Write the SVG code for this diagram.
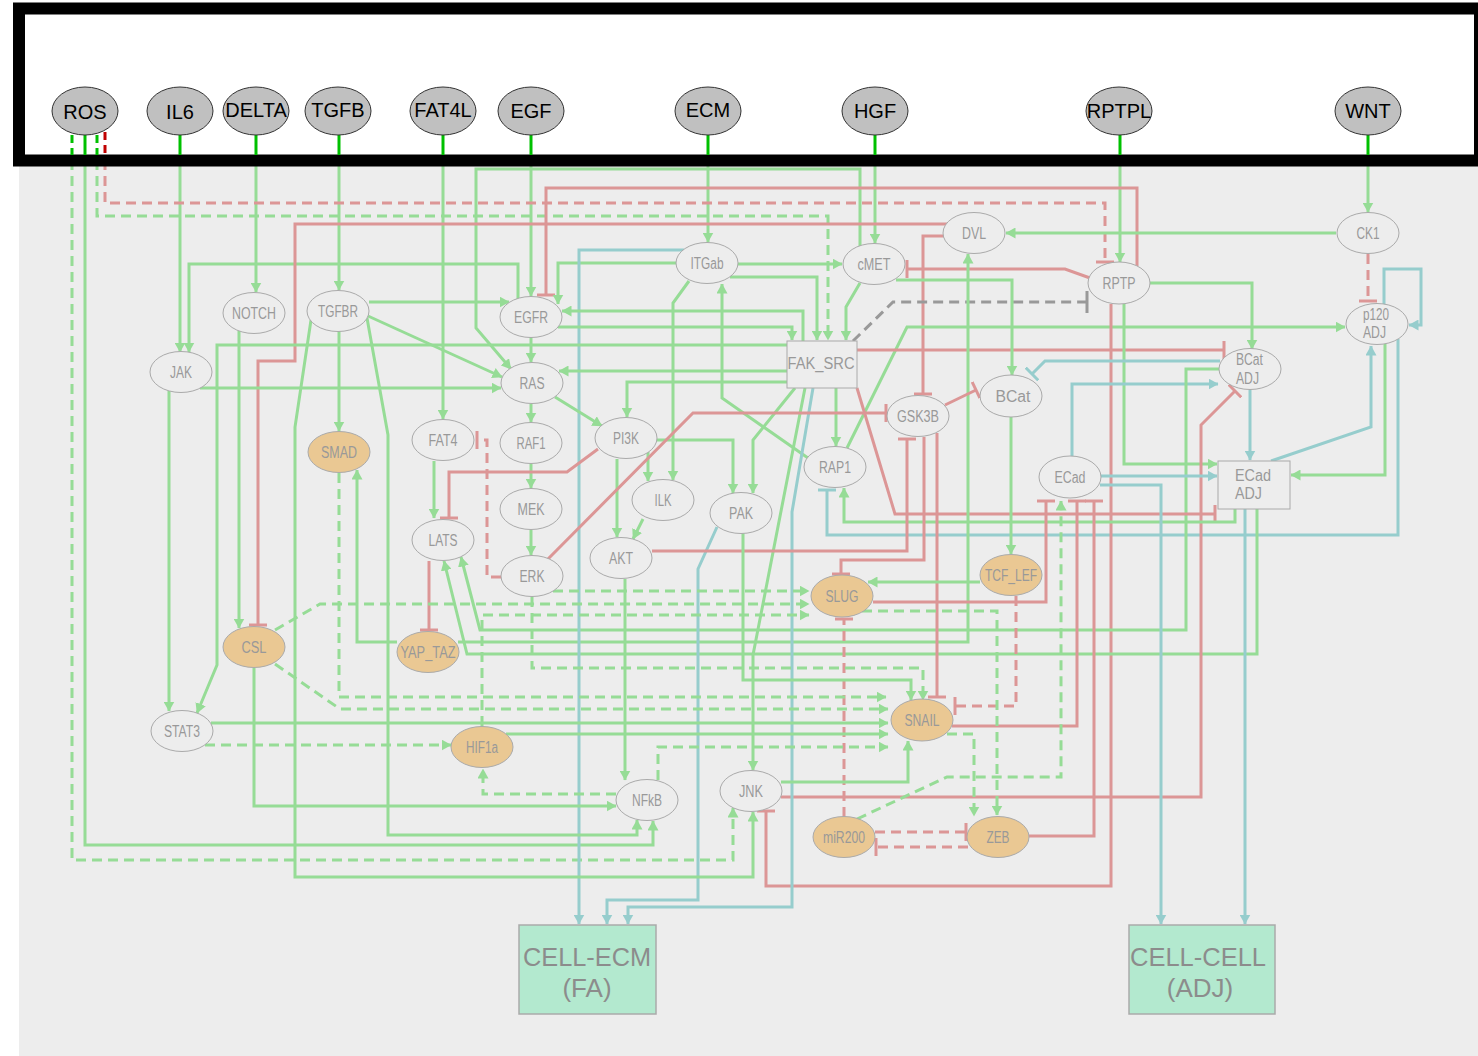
<svg xmlns="http://www.w3.org/2000/svg" width="1478" height="1056" viewBox="0 0 1478 1056">
<defs>
<style>
.g{fill:none;stroke:#96dc96;stroke-width:3}
.gd{fill:none;stroke:#96dc96;stroke-width:3;stroke-dasharray:10 6}
.r{fill:none;stroke:#dc9696;stroke-width:3}
.rd{fill:none;stroke:#dc9696;stroke-width:3;stroke-dasharray:10 6}
.t{fill:none;stroke:#96cdcd;stroke-width:3}
.kd{fill:none;stroke:#999;stroke-width:3;stroke-dasharray:10 6}
.stub{fill:none;stroke:#00c000;stroke-width:3}
.stubd{fill:none;stroke:#00c000;stroke-width:3;stroke-dasharray:8 5}
.stubr{fill:none;stroke:#c00000;stroke-width:3;stroke-dasharray:8 5}
.tn{fill:#c0c0c0;stroke:#333;stroke-width:1}
.tl{font-family:"Liberation Sans",Arial,sans-serif;font-size:20px;fill:#000;text-anchor:middle}
.n{fill:#ededed;stroke:#aaa;stroke-width:1}
.o{fill:#eac893;stroke:#aaa;stroke-width:1}
.nl{font-family:"Liberation Sans",Arial,sans-serif;font-size:16px;fill:#999;text-anchor:middle}
.nls{font-family:"Liberation Sans",Arial,sans-serif;font-size:16px;fill:#999;text-anchor:start}
.out{fill:#b3e9cf;stroke:#aaa;stroke-width:1.5}
.ol{font-family:"Liberation Sans",Arial,sans-serif;font-size:26px;fill:#8c8c8c;text-anchor:middle}
</style>
<marker id="ag" viewBox="0 0 10 11" refX="9.5" refY="5.5" markerWidth="10" markerHeight="11" orient="auto" markerUnits="userSpaceOnUse"><path d="M0,0 L10,5.5 L0,11 z" fill="#96dc96"/></marker>
<marker id="at" viewBox="0 0 10 11" refX="9.5" refY="5.5" markerWidth="10" markerHeight="11" orient="auto" markerUnits="userSpaceOnUse"><path d="M0,0 L10,5.5 L0,11 z" fill="#96cdcd"/></marker>
<marker id="tr" viewBox="0 0 4 18" refX="2" refY="9" markerWidth="4" markerHeight="18" orient="auto" markerUnits="userSpaceOnUse"><rect x="0.5" y="0" width="3" height="18" fill="#dc9696"/></marker>
<marker id="tt" viewBox="0 0 4 18" refX="2" refY="9" markerWidth="4" markerHeight="18" orient="auto" markerUnits="userSpaceOnUse"><rect x="0.5" y="0" width="3" height="18" fill="#96cdcd"/></marker>
<marker id="tk" viewBox="0 0 4 22" refX="2" refY="11" markerWidth="4" markerHeight="22" orient="auto" markerUnits="userSpaceOnUse"><rect x="0.5" y="0" width="3" height="22" fill="#999"/></marker>
</defs>
<rect x="0" y="0" width="1478" height="1056" fill="#fff"/>
<rect x="19" y="160" width="1459" height="896" fill="#ededed"/>
<g id="connectors">
<path class="g" d="M180,160 V352" marker-end="url(#ag)"/>
<path class="g" d="M256,160 V292" marker-end="url(#ag)"/>
<path class="g" d="M339,160 V290" marker-end="url(#ag)"/>
<path class="g" d="M443,160 V419" marker-end="url(#ag)"/>
<path class="g" d="M531,160 V296" marker-end="url(#ag)"/>
<path class="g" d="M708,160 V242" marker-end="url(#ag)"/>
<path class="g" d="M875,160 V243" marker-end="url(#ag)"/>
<path class="g" d="M1120,160 V262" marker-end="url(#ag)"/>
<path class="g" d="M1368,160 V212" marker-end="url(#ag)"/>
<path class="gd" d="M72,160 V860 H733 V808" marker-end="url(#ag)"/>
<path class="g" d="M85,160 V845 H653 V821" marker-end="url(#ag)"/>
<path class="gd" d="M97,160 V216 H828 V340" marker-end="url(#ag)"/>
<path class="rd" d="M105,160 V203 H1105 V262" marker-end="url(#tr)"/>
<path class="g" d="M518,299 V264 H189 V352" marker-end="url(#ag)"/>
<path class="g" d="M860,246 V169 H476 V328 L511,369" marker-end="url(#ag)"/>
<path class="g" d="M368,316 L502,377" marker-end="url(#ag)"/>
<path class="g" d="M369,302 H509" marker-end="url(#ag)"/>
<path class="r" d="M1137,266 V188 H546 V295" marker-end="url(#tr)"/>
<path class="r" d="M947,224 H295 V361 H258 V625" marker-end="url(#tr)"/>
<path class="r" d="M944,236 H923 V394" marker-end="url(#tr)"/>
<path class="r" d="M1090,278 L1065,269 H907" marker-end="url(#tr)"/>
<path class="kd" d="M853,341 L893,302 H1087" marker-end="url(#tk)"/>
<path class="g" d="M1336,233 H1006" marker-end="url(#ag)"/>
<path class="rd" d="M1368,254 V301" marker-end="url(#tr)"/>
<path class="t" d="M1384,305 V269 H1421 V325 H1409" marker-end="url(#at)"/>
<path class="t" d="M1271,461 L1371,427 V346" marker-end="url(#at)"/>
<path class="g" d="M1385,344 V475 H1291" marker-end="url(#ag)"/>
<path class="t" d="M1398,339 V535 H827 V490" marker-end="url(#tt)"/>
<path class="g" d="M1150,283 H1252 V349" marker-end="url(#ag)"/>
<path class="g" d="M847,448 L907,327 H1345" marker-end="url(#ag)"/>
<path class="r" d="M857,350 H1224" marker-end="url(#tr)"/>
<path class="r" d="M1111,304 V886 H766 V811" marker-end="url(#tr)"/>
<path class="g" d="M1124,304 V464 H1217" marker-end="url(#ag)"/>
<path class="t" d="M1250,390 V460" marker-end="url(#at)"/>
<path class="t" d="M1220,361 H1045 L1032,374" marker-end="url(#tt)"/>
<path class="t" d="M1072,456 V384 H1218" marker-end="url(#at)"/>
<path class="g" d="M1219,369 H1186 V630 H480 L461,557" marker-end="url(#ag)"/>
<path class="g" d="M1257,509 V654 H467 L444,561" marker-end="url(#ag)"/>
<path class="r" d="M781,797 H1201 V425 L1235,391" marker-end="url(#tr)"/>
<path class="r" d="M857,388 L895,514 H1215" marker-end="url(#tr)"/>
<path class="g" d="M1235,509 V522 H844 V488" marker-end="url(#ag)"/>
<path class="t" d="M1100,485 H1161 V924" marker-end="url(#at)"/>
<path class="t" d="M1100,476 H1217" marker-end="url(#at)"/>
<path class="t" d="M1245,509 V924" marker-end="url(#at)"/>
<path class="g" d="M397,642 H357 V470" marker-end="url(#ag)"/>
<path class="g" d="M458,642 H968 V254" marker-end="url(#ag)"/>
<path class="g" d="M1011,417 V554" marker-end="url(#ag)"/>
<path class="g" d="M896,280 H1012 V375" marker-end="url(#ag)"/>
<path class="g" d="M860,283 L846,307 V340" marker-end="url(#ag)"/>
<path class="g" d="M738,264 H842" marker-end="url(#ag)"/>
<path class="g" d="M730,277 H817 V340" marker-end="url(#ag)"/>
<path class="g" d="M677,263 H558 V304" marker-end="url(#ag)"/>
<path class="g" d="M689,281 L673,303 V480" marker-end="url(#ag)"/>
<path class="g" d="M808,458 L722,398 V284" marker-end="url(#ag)"/>
<path class="t" d="M684,250 H579 V924" marker-end="url(#at)"/>
<path class="g" d="M531,337 V362" marker-end="url(#ag)"/>
<path class="g" d="M803,341 V311 H562" marker-end="url(#ag)"/>
<path class="g" d="M558,327 H792 V340" marker-end="url(#ag)"/>
<path class="g" d="M787,345 H217 V665 L197,713" marker-end="url(#ag)"/>
<path class="g" d="M787,371 H559" marker-end="url(#ag)"/>
<path class="g" d="M787,382 H627 V417" marker-end="url(#ag)"/>
<path class="g" d="M795,388 L753,440 V493" marker-end="url(#ag)"/>
<path class="g" d="M805,388 L753,655 V770" marker-end="url(#ag)"/>
<path class="t" d="M813,388 L792,512 V907 H628 V924" marker-end="url(#at)"/>
<path class="g" d="M836,388 V446" marker-end="url(#ag)"/>
<path class="t" d="M717,527 L698,569 V900 H607 V924" marker-end="url(#at)"/>
<path class="g" d="M657,440 H733 V493" marker-end="url(#ag)"/>
<path class="g" d="M555,397 L602,426" marker-end="url(#ag)"/>
<path class="g" d="M531,404 V422" marker-end="url(#ag)"/>
<path class="g" d="M531,464 V488" marker-end="url(#ag)"/>
<path class="g" d="M531,530 V555" marker-end="url(#ag)"/>
<path class="g" d="M617,459 V537" marker-end="url(#ag)"/>
<path class="g" d="M648,452 V481" marker-end="url(#ag)"/>
<path class="g" d="M643,519 L633,539" marker-end="url(#ag)"/>
<path class="r" d="M598,449 L567,472 H449 V518" marker-end="url(#tr)"/>
<path class="g" d="M434,461 V518" marker-end="url(#ag)"/>
<path class="r" d="M429,561 V630" marker-end="url(#tr)"/>
<path class="rd" d="M501,577 H487 V440 H477" marker-end="url(#tr)"/>
<path class="r" d="M547,560 L693,413 H886" marker-end="url(#tr)"/>
<path class="r" d="M652,551 H907 V439" marker-end="url(#tr)"/>
<path class="r" d="M924,437 V560 H841 V574" marker-end="url(#tr)"/>
<path class="r" d="M937,433 V697" marker-end="url(#tr)"/>
<path class="r" d="M945,405 L976,390" marker-end="url(#tr)"/>
<path class="r" d="M873,602 H1046 V501" marker-end="url(#tr)"/>
<path class="g" d="M980,582 H868" marker-end="url(#ag)"/>
<path class="rd" d="M1016,596 V706 H955" marker-end="url(#tr)"/>
<path class="r" d="M952,726 H1077 V501" marker-end="url(#tr)"/>
<path class="r" d="M1029,836 H1094 V501" marker-end="url(#tr)"/>
<path class="gd" d="M857,819 L947,777 H1061 V501" marker-end="url(#ag)"/>
<path class="rd" d="M844,817 V619" marker-end="url(#tr)"/>
<path class="gd" d="M862,611 H997 V815" marker-end="url(#ag)"/>
<path class="gd" d="M947,734 H974 V816" marker-end="url(#ag)"/>
<path class="rd" d="M875,832 H966" marker-end="url(#tr)"/>
<path class="rd" d="M968,847 H876" marker-end="url(#tr)"/>
<path class="g" d="M781,782 H908 V741" marker-end="url(#ag)"/>
<path class="gd" d="M616,794 H483 V769" marker-end="url(#ag)"/>
<path class="gd" d="M658,780 V747 H888" marker-end="url(#ag)"/>
<path class="g" d="M625,579 V780" marker-end="url(#ag)"/>
<path class="g" d="M254,668 V806 H616" marker-end="url(#ag)"/>
<path class="g" d="M367,318 L388,435 V835 H637 V820" marker-end="url(#ag)"/>
<path class="g" d="M311,320 L295,427 V877 H753 V812" marker-end="url(#ag)"/>
<path class="g" d="M339,331 V431" marker-end="url(#ag)"/>
<path class="g" d="M239,331 V628" marker-end="url(#ag)"/>
<path class="g" d="M169,391 V711" marker-end="url(#ag)"/>
<path class="g" d="M200,388 H501" marker-end="url(#ag)"/>
<path class="g" d="M211,723 H888" marker-end="url(#ag)"/>
<path class="gd" d="M205,745 H451" marker-end="url(#ag)"/>
<path class="g" d="M506,734 H888" marker-end="url(#ag)"/>
<path class="gd" d="M482,726 V615 H809" marker-end="url(#ag)"/>
<path class="gd" d="M275,630 L320,604 H809" marker-end="url(#ag)"/>
<path class="gd" d="M553,591 H809" marker-end="url(#ag)"/>
<path class="gd" d="M275,664 L340,709 H888" marker-end="url(#ag)"/>
<path class="gd" d="M339,473 V697 H886" marker-end="url(#ag)"/>
<path class="gd" d="M532,597 V668 H923 V700" marker-end="url(#ag)"/>
<path class="g" d="M743,533 V680 H911 V700" marker-end="url(#ag)"/>
</g>
<rect x="19" y="8.5" width="1461" height="152" fill="none" stroke="#000" stroke-width="12"/>
<g id="header-stubs">
<path class="stubd" d="M72,135 V155"/>
<path class="stub" d="M85,135 V155"/>
<path class="stubd" d="M97,135 V155"/>
<path class="stubr" d="M105,132 V155"/>
<path class="stub" d="M180,135 V155"/>
<path class="stub" d="M256,135 V155"/>
<path class="stub" d="M339,135 V155"/>
<path class="stub" d="M443,135 V155"/>
<path class="stub" d="M531,135 V155"/>
<path class="stub" d="M708,135 V155"/>
<path class="stub" d="M875,135 V155"/>
<path class="stub" d="M1120,135 V155"/>
<path class="stub" d="M1368,135 V155"/>
</g>
<g id="n-ROS"><ellipse class="tn" cx="85" cy="111" rx="33" ry="24"/><text class="tl" x="85" y="119">ROS</text></g>
<g id="n-IL6"><ellipse class="tn" cx="180" cy="111" rx="33" ry="24"/><text class="tl" x="180" y="119">IL6</text></g>
<g id="n-DELTA"><ellipse class="tn" cx="256" cy="111" rx="33" ry="24"/><text class="tl" x="256" y="117">DELTA</text></g>
<g id="n-TGFB"><ellipse class="tn" cx="338" cy="111" rx="33" ry="24"/><text class="tl" x="338" y="117">TGFB</text></g>
<g id="n-FAT4L"><ellipse class="tn" cx="443" cy="111" rx="33" ry="24"/><text class="tl" x="443" y="117">FAT4L</text></g>
<g id="n-EGF"><ellipse class="tn" cx="531" cy="111" rx="33" ry="24"/><text class="tl" x="531" y="118">EGF</text></g>
<g id="n-ECM"><ellipse class="tn" cx="708" cy="111" rx="33" ry="24"/><text class="tl" x="708" y="117">ECM</text></g>
<g id="n-HGF"><ellipse class="tn" cx="875" cy="111" rx="33" ry="24"/><text class="tl" x="875" y="118">HGF</text></g>
<g id="n-RPTPL"><ellipse class="tn" cx="1119" cy="111" rx="33" ry="24"/><text class="tl" x="1119" y="118">RPTPL</text></g>
<g id="n-WNT"><ellipse class="tn" cx="1368" cy="111" rx="33" ry="24"/><text class="tl" x="1368" y="118">WNT</text></g>
<g id="n-NOTCH"><ellipse class="n" cx="254" cy="313" rx="31" ry="20.5"/><text class="nl" x="254" y="319" textLength="44" lengthAdjust="spacingAndGlyphs">NOTCH</text></g>
<g id="n-TGFBR"><ellipse class="n" cx="338" cy="311" rx="31" ry="20.5"/><text class="nl" x="338" y="317" textLength="40" lengthAdjust="spacingAndGlyphs">TGFBR</text></g>
<g id="n-JAK"><ellipse class="n" cx="181" cy="372" rx="31" ry="20.5"/><text class="nl" x="181" y="378" textLength="22" lengthAdjust="spacingAndGlyphs">JAK</text></g>
<g id="n-SMAD"><ellipse class="o" cx="339" cy="452" rx="31" ry="20.5"/><text class="nl" x="339" y="458" textLength="36" lengthAdjust="spacingAndGlyphs">SMAD</text></g>
<g id="n-CSL"><ellipse class="o" cx="254" cy="647" rx="31" ry="20.5"/><text class="nl" x="254" y="653" textLength="25" lengthAdjust="spacingAndGlyphs">CSL</text></g>
<g id="n-STAT3"><ellipse class="n" cx="182" cy="731" rx="31" ry="20.5"/><text class="nl" x="182" y="737" textLength="36" lengthAdjust="spacingAndGlyphs">STAT3</text></g>
<g id="n-EGFR"><ellipse class="n" cx="531" cy="317" rx="31" ry="20.5"/><text class="nl" x="531" y="323" textLength="34" lengthAdjust="spacingAndGlyphs">EGFR</text></g>
<g id="n-ITGab"><ellipse class="n" cx="707" cy="263" rx="31" ry="20.5"/><text class="nl" x="707" y="269" textLength="33" lengthAdjust="spacingAndGlyphs">ITGab</text></g>
<g id="n-cMET"><ellipse class="n" cx="874" cy="264" rx="31" ry="20.5"/><text class="nl" x="874" y="270" textLength="33" lengthAdjust="spacingAndGlyphs">cMET</text></g>
<g id="n-DVL"><ellipse class="n" cx="974" cy="233" rx="31" ry="20.5"/><text class="nl" x="974" y="239" textLength="24" lengthAdjust="spacingAndGlyphs">DVL</text></g>
<g id="n-RPTP"><ellipse class="n" cx="1119" cy="283" rx="31" ry="21"/><text class="nl" x="1119" y="289" textLength="33" lengthAdjust="spacingAndGlyphs">RPTP</text></g>
<g id="n-CK1"><ellipse class="n" cx="1368" cy="233" rx="31" ry="20.5"/><text class="nl" x="1368" y="239" textLength="23" lengthAdjust="spacingAndGlyphs">CK1</text></g>
<g id="n-p120ADJ"><ellipse class="n" cx="1377" cy="324" rx="31" ry="20.5"/><text class="nls" x="1363" y="320" textLength="26" lengthAdjust="spacingAndGlyphs">p120</text><text class="nls" x="1363" y="338" textLength="23" lengthAdjust="spacingAndGlyphs">ADJ</text></g>
<g id="n-FAK_SRC"><rect class="n" x="787" y="341" width="70" height="47"/><text class="nl" x="821" y="369" textLength="67" lengthAdjust="spacingAndGlyphs">FAK_SRC</text></g>
<g id="n-RAS"><ellipse class="n" cx="532" cy="383" rx="31" ry="20.5"/><text class="nl" x="532" y="389" textLength="25" lengthAdjust="spacingAndGlyphs">RAS</text></g>
<g id="n-FAT4"><ellipse class="n" cx="443" cy="440" rx="31" ry="20.5"/><text class="nl" x="443" y="446" textLength="29" lengthAdjust="spacingAndGlyphs">FAT4</text></g>
<g id="n-RAF1"><ellipse class="n" cx="531" cy="443" rx="31" ry="20.5"/><text class="nl" x="531" y="449" textLength="29" lengthAdjust="spacingAndGlyphs">RAF1</text></g>
<g id="n-PI3K"><ellipse class="n" cx="626" cy="438" rx="31" ry="20.5"/><text class="nl" x="626" y="444" textLength="26" lengthAdjust="spacingAndGlyphs">PI3K</text></g>
<g id="n-MEK"><ellipse class="n" cx="531" cy="509" rx="31" ry="20.5"/><text class="nl" x="531" y="515" textLength="27" lengthAdjust="spacingAndGlyphs">MEK</text></g>
<g id="n-LATS"><ellipse class="n" cx="443" cy="540" rx="31" ry="20.5"/><text class="nl" x="443" y="546" textLength="29" lengthAdjust="spacingAndGlyphs">LATS</text></g>
<g id="n-ILK"><ellipse class="n" cx="663" cy="500" rx="31" ry="20.5"/><text class="nl" x="663" y="506" textLength="17" lengthAdjust="spacingAndGlyphs">ILK</text></g>
<g id="n-PAK"><ellipse class="n" cx="741" cy="513" rx="31" ry="20.5"/><text class="nl" x="741" y="519" textLength="24" lengthAdjust="spacingAndGlyphs">PAK</text></g>
<g id="n-AKT"><ellipse class="n" cx="621" cy="558" rx="31" ry="20.5"/><text class="nl" x="621" y="564" textLength="24" lengthAdjust="spacingAndGlyphs">AKT</text></g>
<g id="n-ERK"><ellipse class="n" cx="532" cy="576" rx="31" ry="20.5"/><text class="nl" x="532" y="582" textLength="25" lengthAdjust="spacingAndGlyphs">ERK</text></g>
<g id="n-YAP_TAZ"><ellipse class="o" cx="428" cy="652" rx="31" ry="20.5"/><text class="nl" x="428" y="658" textLength="55" lengthAdjust="spacingAndGlyphs">YAP_TAZ</text></g>
<g id="n-GSK3B"><ellipse class="n" cx="918" cy="416" rx="31" ry="20.5"/><text class="nl" x="918" y="422" textLength="42" lengthAdjust="spacingAndGlyphs">GSK3B</text></g>
<g id="n-BCat"><ellipse class="n" cx="1011" cy="396" rx="31" ry="21"/><text class="nl" x="1013" y="402" textLength="35" lengthAdjust="spacingAndGlyphs">BCat</text></g>
<g id="n-RAP1"><ellipse class="n" cx="835" cy="467" rx="31" ry="20.5"/><text class="nl" x="835" y="473" textLength="32" lengthAdjust="spacingAndGlyphs">RAP1</text></g>
<g id="n-ECad"><ellipse class="n" cx="1070" cy="477" rx="31" ry="21"/><text class="nl" x="1070" y="483" textLength="31" lengthAdjust="spacingAndGlyphs">ECad</text></g>
<g id="n-TCF_LEF"><ellipse class="o" cx="1011" cy="575" rx="31" ry="20.5"/><text class="nl" x="1011" y="581" textLength="52" lengthAdjust="spacingAndGlyphs">TCF_LEF</text></g>
<g id="n-SLUG"><ellipse class="o" cx="842" cy="596" rx="31" ry="21"/><text class="nl" x="842" y="602" textLength="33" lengthAdjust="spacingAndGlyphs">SLUG</text></g>
<g id="n-BCatADJ"><ellipse class="n" cx="1250" cy="369" rx="31" ry="20.5"/><text class="nls" x="1236" y="365" textLength="27" lengthAdjust="spacingAndGlyphs">BCat</text><text class="nls" x="1236" y="384" textLength="23" lengthAdjust="spacingAndGlyphs">ADJ</text></g>
<g id="n-ECadADJ"><rect class="n" x="1218" y="461" width="72" height="48"/><text class="nls" x="1235" y="481" textLength="36" lengthAdjust="spacingAndGlyphs">ECad</text><text class="nls" x="1235" y="499" textLength="27" lengthAdjust="spacingAndGlyphs">ADJ</text></g>
<g id="n-SNAIL"><ellipse class="o" cx="922" cy="720" rx="31" ry="21"/><text class="nl" x="922" y="726" textLength="35" lengthAdjust="spacingAndGlyphs">SNAIL</text></g>
<g id="n-HIF1a"><ellipse class="o" cx="482" cy="747" rx="31" ry="20.5"/><text class="nl" x="482" y="753" textLength="32" lengthAdjust="spacingAndGlyphs">HIF1a</text></g>
<g id="n-NFkB"><ellipse class="n" cx="647" cy="800" rx="31" ry="20.5"/><text class="nl" x="647" y="806" textLength="30" lengthAdjust="spacingAndGlyphs">NFkB</text></g>
<g id="n-JNK"><ellipse class="n" cx="751" cy="791" rx="31" ry="20.5"/><text class="nl" x="751" y="797" textLength="24" lengthAdjust="spacingAndGlyphs">JNK</text></g>
<g id="n-miR200"><ellipse class="o" cx="844" cy="837" rx="31" ry="20.5"/><text class="nl" x="844" y="843" textLength="42" lengthAdjust="spacingAndGlyphs">miR200</text></g>
<g id="n-ZEB"><ellipse class="o" cx="998" cy="837" rx="31" ry="20.5"/><text class="nl" x="998" y="843" textLength="23" lengthAdjust="spacingAndGlyphs">ZEB</text></g>
<g id="n-CELL-ECM"><rect class="out" x="519" y="925" width="137" height="89"/><text class="ol" x="587" y="966" textLength="128" lengthAdjust="spacingAndGlyphs">CELL-ECM</text><text class="ol" x="587" y="997">(FA)</text></g>
<g id="n-CELL-CELL"><rect class="out" x="1129" y="925" width="146" height="89"/><text class="ol" x="1198" y="966" textLength="136" lengthAdjust="spacingAndGlyphs">CELL-CELL</text><text class="ol" x="1200" y="997">(ADJ)</text></g>
</svg>
